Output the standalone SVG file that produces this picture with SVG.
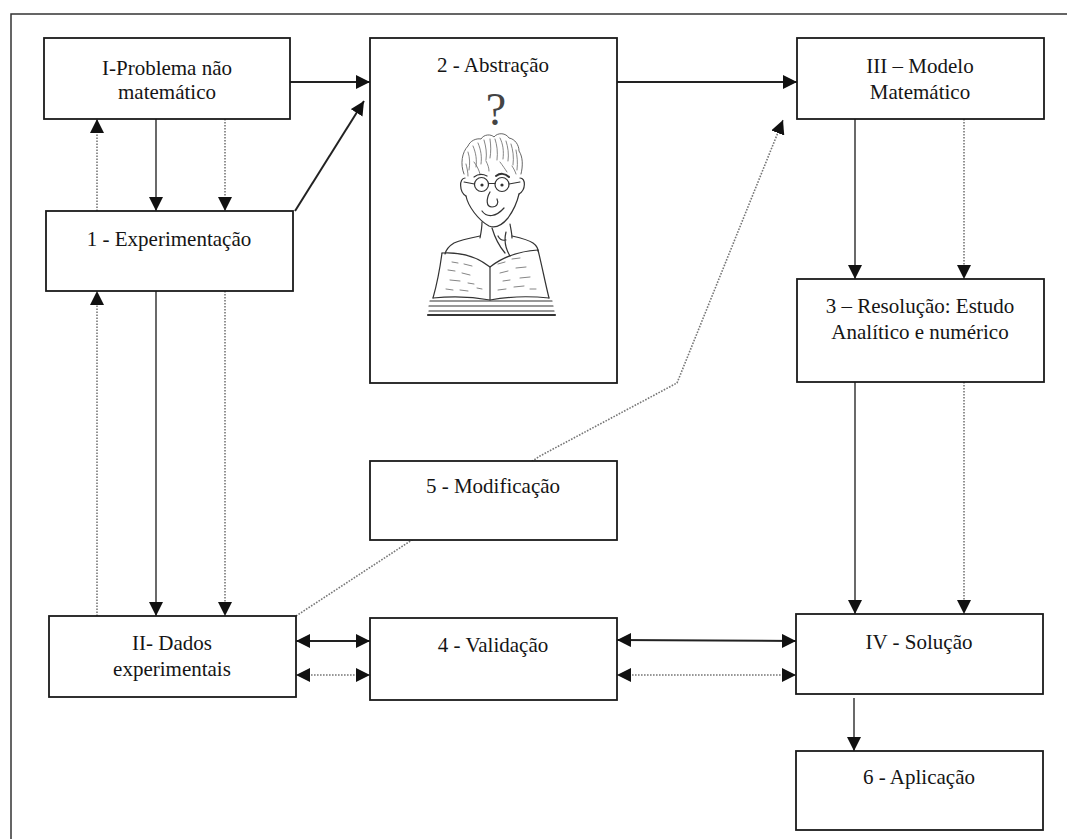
<svg xmlns="http://www.w3.org/2000/svg" width="1067" height="839" viewBox="0 0 1067 839">
<defs>
<marker id="ah" markerUnits="userSpaceOnUse" markerWidth="14" markerHeight="14" refX="12" refY="6" orient="auto-start-reverse" viewBox="0 0 12 12">
<path d="M0,0 L12,6 L0,12 z" fill="#111"/>
</marker>
<style>
.box{fill:#fff;stroke:#1a1a1a;stroke-width:1.8}
.t{font-family:"Liberation Serif","Times New Roman",serif;font-size:21px;fill:#151515;text-anchor:middle}
.solid{fill:none;stroke:#222;stroke-width:2}
.solidg{fill:none;stroke:#444;stroke-width:1.6}
.dot{fill:none;stroke:#777;stroke-width:1.6;stroke-dasharray:1.6 1.4}
.fig{fill:none;stroke:#333;stroke-width:1.2;stroke-linecap:round;stroke-linejoin:round}
.figt{fill:none;stroke:#666;stroke-width:0.8;stroke-linecap:round}
.frame{fill:none;stroke:#333;stroke-width:1.5}
</style>
</defs>
<rect x="0" y="0" width="1067" height="839" fill="#fff"/>
<path class="frame" d="M11,839 L11,14 L1067,14"/>

<g id="connectors">
<line class="solid" x1="290" y1="82" x2="370" y2="82" marker-end="url(#ah)"/>
<line class="solid" x1="295" y1="211" x2="364" y2="101" marker-end="url(#ah)"/>
<line class="solid" x1="617" y1="82" x2="797" y2="82" marker-end="url(#ah)"/>
<line class="solidg" x1="156" y1="119" x2="156" y2="211" marker-end="url(#ah)"/>
<line class="dot" x1="225" y1="119" x2="225" y2="211" marker-end="url(#ah)"/>
<line class="dot" x1="97" y1="211" x2="97" y2="119" marker-end="url(#ah)"/>
<line class="solidg" x1="156" y1="291" x2="156" y2="616" marker-end="url(#ah)"/>
<line class="dot" x1="225" y1="291" x2="225" y2="616" marker-end="url(#ah)"/>
<line class="dot" x1="97" y1="616" x2="97" y2="291" marker-end="url(#ah)"/>
<line class="solidg" x1="855" y1="119" x2="855" y2="279" marker-end="url(#ah)"/>
<line class="dot" x1="964" y1="119" x2="964" y2="279" marker-end="url(#ah)"/>
<line class="solidg" x1="855" y1="382" x2="855" y2="614" marker-end="url(#ah)"/>
<line class="dot" x1="964" y1="382" x2="964" y2="614" marker-end="url(#ah)"/>
<line class="solidg" x1="854" y1="698" x2="854" y2="751" marker-end="url(#ah)"/>
<line class="solid" x1="296" y1="641" x2="370" y2="641" marker-start="url(#ah)" marker-end="url(#ah)"/>
<line class="dot" x1="296" y1="675" x2="370" y2="675" marker-start="url(#ah)" marker-end="url(#ah)"/>
<line class="solid" x1="617" y1="640" x2="796" y2="641" marker-start="url(#ah)" marker-end="url(#ah)"/>
<line class="dot" x1="617" y1="675" x2="796" y2="675" marker-start="url(#ah)" marker-end="url(#ah)"/>
<path class="dot" d="M296,616 L540,456 L677,383 L783,120" marker-end="url(#ah)"/>
</g>

<g id="node-I">
<rect class="box" x="44" y="38" width="246" height="81"/>
<text class="t" x="167" y="75">I-Problema não</text>
<text class="t" x="167" y="99">matemático</text>
</g>

<g id="node-1">
<rect class="box" x="46" y="211" width="247" height="80"/>
<text class="t" x="169" y="246">1 - Experimentação</text>
</g>

<g id="node-2">
<rect class="box" x="370" y="38" width="247" height="345"/>
<text class="t" x="493" y="72">2 - Abstração</text>
<g id="abstraction-figure">
<text x="496" y="125" style="font-family:'Liberation Serif','Times New Roman',serif;font-size:46px;fill:#444;text-anchor:middle">?</text>
<!-- hair -->
<path class="fig" d="M464,174 C460,164 462,152 468,146 C470,141 476,138 481,139 C484,134 491,134 494,137 C498,132 506,133 509,138 C515,139 519,145 519,151 C523,157 523,166 521,174" style="stroke-width:0.9;stroke:#555"/>
<path class="figt" d="M468,152 C470,158 470,164 469,170 M473,146 C476,153 477,160 476,167 M478,143 C481,150 482,157 481,164 M484,140 C486,147 487,153 486,160 M490,139 C491,146 491,152 490,158 M495,139 C497,145 498,152 497,160 M500,138 C503,144 504,151 503,159 M506,141 C508,147 509,154 508,161 M511,144 C513,150 514,157 513,165 M516,150 C517,156 518,162 517,170 M474,162 C477,166 479,170 480,174 M486,161 C488,165 489,168 489,171 M500,162 C503,166 505,169 507,172 M512,166 C514,169 515,171 516,174 M466,164 C467,168 468,172 468,176"/>
<!-- ears -->
<path class="fig" d="M465,178 C459,178 459,192 466,196"/>
<path class="fig" d="M520,178 C526,178 526,190 519,194"/>
<!-- eyebrows -->
<path class="fig" d="M474,177 C478,174 483,174 487,176"/>
<path class="fig" d="M496,176 C500,173 505,173 509,177" style="stroke-width:2"/>
<!-- glasses -->
<circle class="fig" cx="481.5" cy="184.5" r="7"/>
<circle class="fig" cx="502" cy="184.5" r="7"/>
<path class="fig" d="M488.5,183.5 L495,183.5 M474.5,184 L464,182 M509,184 L520,182"/>
<circle cx="482" cy="185" r="1.6" fill="#333"/>
<circle cx="502" cy="185" r="1.6" fill="#333"/>
<!-- face -->
<path class="fig" d="M466,196 C468,206 478,220 489,226 C496,229 503,224 508,218 C513,211 517,203 519,194"/>
<!-- nose -->
<path class="fig" d="M490,192 C486,199 486,207 492,207 C497,207 499,203 497,199"/>
<!-- smile -->
<path class="fig" d="M482,211 C487,218 496,217 504,208"/>
<!-- neck -->
<path class="fig" d="M482,222 C482,228 481,233 480,238 M510,224 C511,230 512,234 512,238"/>
<!-- hand -->
<path class="fig" d="M492,228 C495,238 499,246 505,253 M506,232 C504,240 505,248 510,256 M498,236 C500,240 502,241 506,240"/>
<!-- shoulders -->
<path class="fig" d="M480,236 C470,238 460,240 454,243 C449,246 446,250 445,254"/>
<path class="fig" d="M512,236 C521,238 529,240 533,243 C537,246 538,249 538,251"/>
<!-- book -->
<path class="fig" d="M442,253 C458,252 476,256 490,267 C504,256 522,251 538,250"/>
<path class="fig" d="M442,253 C440,268 437,284 433,298 M538,250 C542,266 545,282 549,298 M490,267 L490,300"/>
<path class="fig" d="M433,298 C452,296 474,297 490,300 C506,297 530,296 549,298"/>
<path class="fig" d="M430,301 L552,301 M429,306 L553,306 M429,311 L554,311"/>
<path class="fig" d="M428,315 L555,315" style="stroke-width:2.2"/>
<path class="figt" d="M452,262 L458,263 M464,264 L472,266 M448,270 L455,271 M462,273 L470,275 M450,280 L460,281 M468,283 L474,284 M446,289 L453,290 M460,290 L468,291 M477,288 L482,289 M498,264 L505,262 M512,259 L520,258 M500,273 L508,271 M516,268 L526,267 M503,281 L510,280 M520,278 L530,277 M498,290 L506,289 M514,287 L524,286 M530,289 L536,289"/>
</g>
</g>

<g id="node-III">
<rect class="box" x="797" y="38" width="247" height="81"/>
<text class="t" x="920" y="73">III – Modelo</text>
<text class="t" x="920" y="99">Matemático</text>
</g>

<g id="node-3">
<rect class="box" x="797" y="279" width="247" height="103"/>
<text class="t" x="920" y="313">3 – Resolução: Estudo</text>
<text class="t" x="920" y="339">Analítico e numérico</text>
</g>

<g id="node-5">
<rect class="box" x="370" y="461" width="247" height="79"/>
<text class="t" x="493" y="493">5 - Modificação</text>
</g>

<g id="node-II">
<rect class="box" x="49" y="616" width="247" height="81"/>
<text class="t" x="172" y="650">II- Dados</text>
<text class="t" x="172" y="676">experimentais</text>
</g>

<g id="node-4">
<rect class="box" x="370" y="618" width="247" height="82"/>
<text class="t" x="493" y="652">4 - Validação</text>
</g>

<g id="node-IV">
<rect class="box" x="796" y="614" width="247" height="80"/>
<text class="t" x="919" y="649">IV - Solução</text>
</g>

<g id="node-6">
<rect class="box" x="796" y="751" width="247" height="79"/>
<text class="t" x="919" y="784">6 - Aplicação</text>
</g>
</svg>
